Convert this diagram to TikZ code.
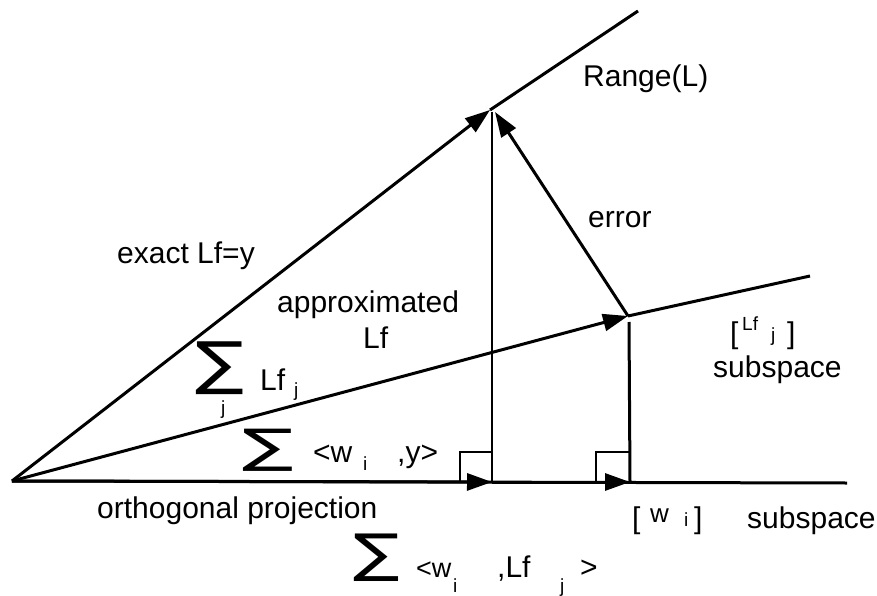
\documentclass[tikz,border=0pt]{standalone}
\usepackage{fontspec}
\setmainfont{Liberation Sans}
\newfontfamily\symf{DejaVu Sans}
\usetikzlibrary{arrows.meta}
\begin{document}
\begin{tikzpicture}[x=1pt,y=-1pt,
  ln/.style={line width=3pt},
  thin ln/.style={line width=2.4pt},
  arr/.style={ln,-{Triangle[length=25pt,width=17pt]}},
  lbl/.style={font=\fontsize{30}{32}\selectfont, inner sep=0, anchor=base west},
  sub/.style={font=\fontsize{19}{20}\selectfont, inner sep=0, anchor=base west},
  sig/.style={font=\symf\fontsize{58}{58}\selectfont, inner sep=0, anchor=center, xscale=1.25}]
\useasboundingbox (0,0) rectangle (877,596);
% points
\coordinate (O) at (12,481);
\coordinate (A) at (490,110);
\coordinate (R) at (638,11);
\coordinate (B) at (628,316);
\coordinate (S) at (810,276);
\coordinate (P) at (492,482);
\coordinate (Q) at (630,482);
\coordinate (E) at (847,483);
\coordinate (At) at (492,112);
\coordinate (Ae) at (495,112);
\coordinate (Bt) at (629,322);
% lines
\draw[ln] (O) -- (E);
\draw[arr] (O) -- (P);
\draw[arr] (P) -- (Q);
\draw[arr] (O) -- (A);
\draw[ln] (A) -- (R);
\draw[arr] (O) -- (B);
\draw[ln] (B) -- (S);
\draw[thin ln] (At) -- (P);
\draw[ln] (Bt) -- (Q);
\draw[arr] (B) -- (Ae);
% right angle marks
\coordinate (m1a) at (460,482); \coordinate (m1b) at (460,452); \coordinate (m1c) at (492,452);
\coordinate (m2a) at (596,482); \coordinate (m2b) at (596,452); \coordinate (m2c) at (629,452);
\draw[line width=2.2pt] (m1a) -- (m1b) -- (m1c);
\draw[line width=2.2pt] (m2a) -- (m2b) -- (m2c);
% labels
\node[lbl] (range) at (583,87) {Range(L)};
\node[lbl] (err) at (588,227) {error};
\node[lbl] (exact) at (117,263) {exact Lf=y};
\node[lbl] (approx) at (277,312) {approximated};
\node[lbl] (lf) at (363,348) {Lf};
\node[sig, inner ysep=-5pt] (s1) at (220,368) {∑};
\node[sub] (s1j) at (221,414) {j};
\node[lbl] (lfj) at (260,390) {Lf};
\node[sub] (lfjj) at (294,396) {j};
\node[sig, xscale=1.05, yscale=0.8] (s2) at (268,450) {∑};
\node[lbl] (w1) at (313,462) {<w};
\node[sub] (w1i) at (363,470) {i};
\node[lbl] (y1) at (397,462) {,y>};
\node[lbl] (orth) at (97,518) {orthogonal projection};
\node[lbl] (wb1) at (632,528) {[};
\node[lbl,font=\fontsize{26}{28}\selectfont] (wb2) at (650,522) {w};
\node[sub] (wb3) at (684,526) {i};
\node[lbl] (wb4) at (694,528) {]};
\node[lbl] (sub1) at (747,528) {subspace};
\node[sig, xscale=0.95, yscale=0.9] (s3) at (377,558) {∑};
\node[lbl,font=\fontsize{27}{28}\selectfont] (w2) at (416,577) {<w};
\node[sub] (w2i) at (453,592) {i};
\node[lbl] (lf2) at (497,577) {,Lf};
\node[sub] (lf2j) at (560,592) {j};
\node[lbl] (gt) at (580,577) {>};
\node[lbl] (lb) at (730,343) {[};
\node[sub] (lbl2) at (742,330) {Lf};
\node[sub] (lbj) at (771,341) {j};
\node[lbl] (rb) at (787,343) {]};
\node[lbl] (sub2) at (713,377) {subspace};
\end{tikzpicture}
\end{document}
